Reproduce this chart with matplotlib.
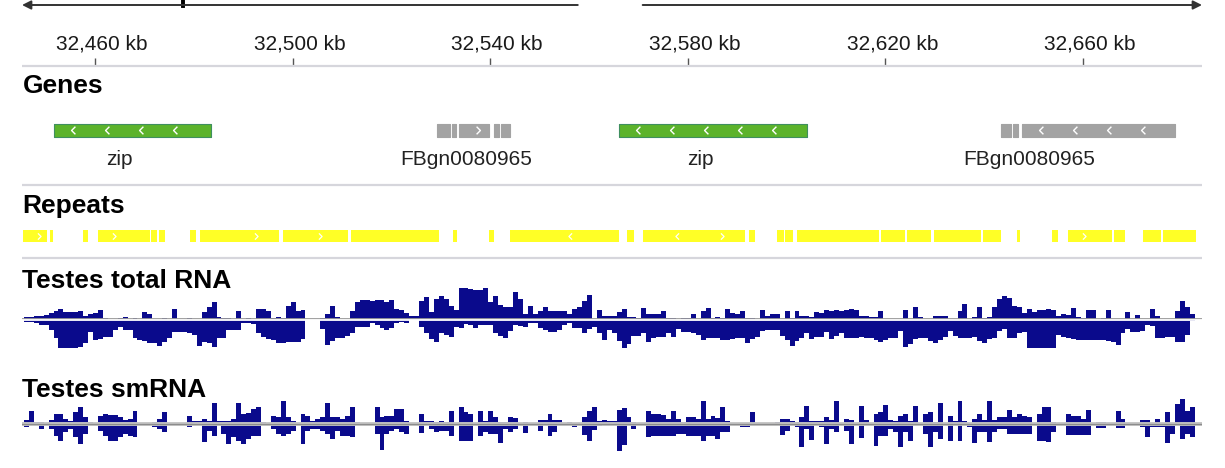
import matplotlib
matplotlib.use('Agg')
import matplotlib.pyplot as plt
import numpy as np

W, H = 1225, 468
plt.rcParams['font.family'] = ['Liberation Sans', 'DejaVu Sans']

# ---------------- data (positions in kb) ----------------
view_start, view_end = 32445.22, 32684.09

tick_kb = [32460, 32500, 32540, 32580, 32620, 32660]
tick_labels = ['32,460 kb', '32,500 kb', '32,540 kb', '32,580 kb', '32,620 kb', '32,660 kb']

gene_names = ['zip', 'FBgn0080965', 'zip', 'FBgn0080965']
gene_blocks = [
    [(32451.7, 32483.5)],
    [(32529.2, 32531.9), (32532.3, 32533.1), (32533.6, 32539.8), (32540.8, 32541.8), (32542.2, 32544.0)],
    [(32566.0, 32604.1)],
    [(32643.4, 32645.4), (32645.8, 32646.8), (32647.7, 32678.6)],
]
gene_strand = ['-', '+', '-', '-']
gene_label_kb = [32464.9, 32535.1, 32582.6, 32649.1]
gene_colors = ['#5cb32b', '#a3a3a3', '#5cb32b', '#a3a3a3']

repeat_start = [32445.4, 32450.8, 32457.6, 32460.6, 32471.3, 32473.0, 32479.2, 32481.3, 32498.1, 32511.8,
                32532.5, 32539.8, 32544.0, 32567.7, 32570.9, 32592.4, 32598.1, 32599.7, 32602.1, 32619.1,
                32624.4, 32629.8, 32639.8, 32646.6, 32653.7, 32657.0, 32666.3, 32672.1, 32676.2]
repeat_end = [32450.3, 32451.4, 32458.6, 32471.1, 32472.6, 32474.2, 32480.4, 32497.2, 32511.2, 32529.6,
              32533.3, 32540.8, 32566.1, 32569.1, 32591.6, 32593.6, 32599.5, 32601.3, 32618.7, 32624.0,
              32629.2, 32639.4, 32643.4, 32647.2, 32654.9, 32665.9, 32668.5, 32675.8, 32682.9]
repeat_arrow_kb = [32448.7, 32463.8, 32492.6, 32505.5, 32556.2, 32577.8, 32586.9, 32660.2]
repeat_arrow_dir = ['>', '>', '>', '>', '<', '<', '>', '>']

# coverage, 1 kb bins starting at cov_start
cov_start = 32445.6
cov_bin = 1.0

total_up = [
    2, 2, 3, 3, 4, 6, 8, 10, 7, 7,
    7, 8, 3, 5, 6, 9, 1, 0, 0, 1,
    2, 0, 1, 0, 7, 5, 0, 0, 1, 0,
    10, 0, 0, 1, 0, 0, 7, 12, 17, 2,
    1, 1, 0, 8, 0, 1, 0, 10, 10, 8,
    1, 2, 1, 13, 17, 8, 9, 0, 0, 0,
    1, 5, 13, 2, 0, 0, 8, 17, 19, 19,
    18, 19, 19, 17, 19, 10, 9, 6, 3, 3,
    18, 22, 7, 20, 23, 20, 13, 9, 31, 31,
    30, 29, 29, 31, 17, 23, 14, 12, 12, 27,
    20, 5, 13, 5, 8, 12, 8, 8, 8, 8,
    5, 10, 12, 18, 24, 0, 9, 3, 3, 3,
    7, 10, 2, 2, 1, 11, 5, 5, 5, 8,
    1, 1, 0, 1, 1, 5, 0, 8, 11, 1,
    2, 1, 10, 6, 5, 8, 1, 1, 0, 9,
    3, 5, 5, 0, 8, 1, 8, 3, 3, 2,
    7, 6, 9, 8, 9, 8, 9, 10, 9, 3,
    3, 2, 2, 8, 0, 0, 0, 0, 9, 0,
    12, 2, 0, 0, 3, 3, 3, 0, 0, 8,
    15, 0, 2, 12, 1, 2, 12, 20, 23, 21,
    13, 12, 6, 10, 7, 9, 9, 10, 9, 3,
    5, 4, 11, 2, 1, 9, 9, 0, 1, 9,
    0, 0, 0, 7, 0, 4, 0, 0, 10, 3,
    0, 0, 0, 8, 18, 12, 5, 0]

total_down = [
    3, 3, 4, 6, 6, 11, 19, 29, 29, 29,
    29, 28, 24, 13, 21, 20, 18, 18, 11, 8,
    11, 11, 19, 21, 22, 24, 24, 27, 23, 19,
    13, 13, 13, 14, 16, 27, 23, 24, 28, 19,
    19, 11, 11, 11, 4, 4, 5, 14, 18, 20,
    21, 24, 24, 23, 23, 23, 20, 0, 0, 0,
    10, 26, 22, 19, 19, 17, 14, 8, 8, 8,
    4, 6, 9, 11, 9, 4, 3, 4, 1, 1,
    8, 14, 20, 23, 14, 16, 18, 8, 9, 5,
    6, 9, 6, 6, 6, 14, 17, 19, 12, 6,
    7, 8, 4, 4, 9, 11, 13, 13, 11, 6,
    4, 9, 9, 14, 10, 8, 14, 21, 11, 14,
    22, 29, 25, 17, 17, 14, 23, 19, 18, 18,
    14, 18, 10, 13, 13, 14, 16, 21, 19, 19,
    19, 21, 21, 20, 19, 19, 24, 20, 18, 12,
    11, 11, 11, 17, 21, 27, 22, 19, 14, 20,
    18, 18, 13, 20, 17, 14, 19, 19, 19, 18,
    19, 19, 21, 23, 21, 19, 19, 12, 28, 25,
    20, 19, 19, 22, 24, 21, 18, 12, 17, 19,
    19, 19, 18, 22, 24, 20, 19, 12, 10, 19,
    19, 14, 13, 29, 29, 29, 29, 29, 29, 16,
    18, 19, 20, 21, 21, 21, 21, 21, 21, 22,
    23, 26, 14, 10, 13, 13, 12, 6, 7, 19,
    19, 18, 18, 23, 23, 16, 2, 0]

sm_up = [
    4, 13, 2, 2, 0, 4, 10, 10, 5, 3,
    12, 17, 7, 2, 0, 8, 10, 9, 9, 7,
    4, 5, 13, 0, 0, 0, 2, 5, 12, 0,
    0, 0, 0, 8, 3, 3, 5, 3, 21, 3,
    3, 3, 5, 21, 10, 11, 15, 17, 2, 0,
    8, 7, 23, 7, 3, 0, 10, 8, 3, 5,
    7, 21, 7, 7, 5, 8, 17, 2, 1, 0,
    1, 17, 7, 8, 8, 15, 15, 3, 0, 0,
    10, 3, 3, 2, 3, 2, 13, 0, 17, 12,
    10, 0, 13, 3, 13, 7, 2, 2, 7, 6,
    0, 2, 0, 0, 4, 4, 10, 4, 4, 0,
    2, 0, 0, 7, 13, 17, 3, 4, 3, 3,
    14, 16, 7, 2, 0, 0, 13, 10, 10, 9,
    5, 13, 5, 2, 7, 7, 5, 23, 5, 8,
    6, 17, 3, 0, 0, 0, 0, 12, 0, 0,
    0, 0, 2, 5, 5, 3, 2, 7, 18, 3,
    3, 3, 7, 4, 23, 0, 5, 4, 0, 18,
    4, 0, 10, 12, 19, 4, 3, 8, 10, 3,
    18, 0, 10, 12, 2, 21, 0, 8, 3, 23,
    3, 0, 5, 10, 4, 23, 4, 7, 7, 14,
    7, 10, 8, 7, 0, 10, 17, 17, 2, 0,
    0, 10, 8, 8, 5, 14, 0, 2, 2, 0,
    0, 13, 5, 0, 0, 0, 4, 4, 0, 5,
    0, 12, 0, 20, 25, 13, 17, 0]

sm_down = [
    3, 0, 0, 5, 0, 5, 12, 17, 8, 5,
    13, 20, 10, 0, 0, 7, 12, 17, 17, 13,
    10, 12, 13, 0, 0, 0, 3, 5, 8, 0,
    0, 0, 0, 3, 0, 0, 18, 7, 12, 0,
    10, 20, 13, 17, 20, 15, 12, 12, 0, 0,
    5, 10, 12, 10, 7, 0, 20, 7, 5, 5,
    7, 10, 15, 7, 12, 12, 13, 0, 1, 0,
    0, 10, 26, 10, 7, 5, 8, 10, 0, 0,
    9, 0, 5, 8, 7, 7, 12, 0, 17, 17,
    17, 0, 12, 8, 10, 10, 19, 5, 8, 5,
    0, 9, 0, 0, 7, 0, 12, 8, 0, 0,
    0, 3, 0, 11, 17, 6, 2, 0, 0, 0,
    27, 21, 0, 5, 0, 0, 13, 12, 12, 12,
    12, 12, 10, 10, 12, 12, 12, 17, 12, 12,
    15, 8, 8, 0, 0, 3, 3, 0, 0, 0,
    0, 0, 0, 11, 7, 0, 3, 23, 5, 16,
    0, 3, 20, 5, 8, 0, 7, 20, 0, 14,
    0, 0, 22, 12, 12, 5, 8, 23, 8, 17,
    0, 0, 10, 23, 8, 15, 0, 17, 0, 17,
    0, 3, 19, 8, 8, 18, 8, 5, 5, 10,
    10, 10, 10, 10, 0, 17, 17, 18, 8, 0,
    0, 11, 11, 11, 11, 11, 0, 4, 4, 0,
    0, 4, 4, 0, 0, 0, 3, 13, 3, 3,
    3, 19, 10, 0, 15, 10, 13, 0]

# ---------------- drawing ----------------
navy = '#0a0a8c'
sep_color = '#d6d6dc'
chev_left = [(0.5, 1.0), (-0.5, 0.0), (0.5, -1.0)]
chev_right = [(-0.5, 1.0), (0.5, 0.0), (-0.5, -1.0)]

fig = plt.figure(figsize=(W / 100, H / 100), dpi=100)


def track_axes(top, bottom):
    ax = fig.add_axes([22 / W, 1 - bottom / H, 1180 / W, (bottom - top) / H])
    ax.set_xlim(view_start, view_end)
    ax.axis('off')
    return ax


# layout axes (y in pixels from top) for ruler, genes, repeats
ax = track_axes(0, H)
ax.set_ylim(H, 0)

# region arrows at very top
arrow = dict(arrowstyle='-|>', color='#333333', lw=1.4, mutation_scale=13, shrinkA=0, shrinkB=0)
ax.annotate('', xy=(0.0, 5), xytext=(0.471, 5), xycoords=('axes fraction', 'data'),
            textcoords=('axes fraction', 'data'), arrowprops=arrow)
ax.annotate('', xy=(1.0, 5), xytext=(0.526, 5), xycoords=('axes fraction', 'data'),
            textcoords=('axes fraction', 'data'), arrowprops=arrow)
ax.plot([0.1364, 0.1364], [0, 6], color='black', lw=2.8, transform=ax.get_yaxis_transform())

# ruler
ax.vlines(tick_kb, 58, 66, color='#555555', lw=1)
for kb, lab in zip(tick_kb, tick_labels):
    ax.annotate(lab, (kb, 50), xytext=(5, 0), textcoords='offset points',
                ha='center', va='baseline', fontsize=15, color='#1a1a1a')

for y in [66, 184.5, 257.7]:
    ax.axhline(y, color=sep_color, lw=1.6)

# genes
for name, blocks, strand, lab_kb, col in zip(gene_names, gene_blocks, gene_strand,
                                              gene_label_kb, gene_colors):
    edge = '#3f8f5f' if col == '#5cb32b' else col
    ax.broken_barh([(s, e - s) for s, e in blocks], (124, 12.7), facecolor=col,
                   edgecolor=edge, lw=0.8)
    for s, e in blocks:
        pos = s + 3.85
        xs = []
        while pos < e - 2:
            xs.append(pos)
            pos += 6.88
        if xs:
            ax.plot(xs, [130.3] * len(xs), ls='none',
                    marker=chev_left if strand == '-' else chev_right,
                    ms=5.5, mfc='none', mec='white', mew=1.0)
    ax.text(lab_kb, 165, name, ha='center', va='baseline', fontsize=15, color='#222222')

# repeats
ax.broken_barh([(s, e - s) for s, e in zip(repeat_start, repeat_end)], (230, 11.7),
               facecolor='#ffff26', edgecolor='none')
for kb, d in zip(repeat_arrow_kb, repeat_arrow_dir):
    ax.plot([kb], [235.8], ls='none', marker=chev_left if d == '<' else chev_right,
            ms=4.5, mfc='none', mec='white', mew=0.9)

# headers
hdr = dict(fontsize=19, fontweight='bold', color='black', va='baseline')
fig.text(23 / W, 1 - 92.7 / H, 'Genes', **hdr)
fig.text(22 / W, 1 - 212.7 / H, 'Repeats', **hdr)
fig.text(22 / W, 1 - 288.3 / H, 'Testes total RNA', **hdr)
fig.text(22 / W, 1 - 397.3 / H, 'Testes smRNA', **hdr)

edges = cov_start + cov_bin * np.arange(len(total_up) + 1)

# total RNA coverage
ax_t = track_axes(282, 356)
ax_t.set_ylim(-37, 37)
ax_t.stairs(total_up, edges, baseline=0, fill=True, color=navy, lw=0)
ax_t.stairs(-np.array(total_down), edges, baseline=0, fill=True, color=navy, lw=0)
ax_t.axhline(0.3, color='#9a9a9a', lw=1.3)
ax_t.axhline(-1.4, color='white', lw=1.3)

# smRNA coverage
ax_s = track_axes(393, 455)
ax_s.set_ylim(-31, 31)
ax_s.stairs(sm_up, edges, baseline=0, fill=True, color=navy, lw=0)
ax_s.stairs(-np.array(sm_down), edges, baseline=0, fill=True, color=navy, lw=0)
ax_s.axhline(0, color='#c4c4c4', lw=2.8)
ax_s.axhline(0, color='#8c8c8c', lw=0.9)

fig.savefig('out.png', dpi=100)
